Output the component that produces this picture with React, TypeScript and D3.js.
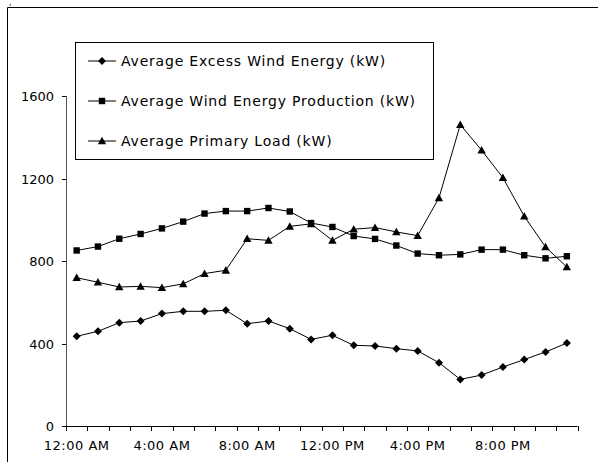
import React from "react";
import * as d3 from "d3";

const categories = Array.from({ length: 24 }, (_, i) => i);
const tickLabels = ["12:00 AM", "4:00 AM", "8:00 AM", "12:00 PM", "4:00 PM", "8:00 PM"];
const yTicks = [0, 400, 800, 1200, 1600];

const excess = [435, 459, 501, 509, 545, 556, 556, 561, 496, 509, 472, 420, 440, 391, 388, 375, 364, 307, 226, 247, 286, 322, 359, 402];
const production = [851, 870, 908, 931, 958, 991, 1030, 1042, 1042, 1057, 1040, 984, 965, 921, 907, 875, 836, 828, 832, 855, 855, 828, 813, 823];
const load = [719, 697, 674, 677, 671, 689, 739, 755, 908, 900, 968, 980, 900, 954, 962, 941, 923, 1106, 1461, 1337, 1204, 1017, 868, 771];

const seriesNames = [
  "Average Excess Wind Energy (kW)",
  "Average Wind Energy Production (kW)",
  "Average Primary Load (kW)",
];

const FONT = "'DejaVu Sans', Verdana, sans-serif";

function Marker({ type, x, y }: { type: string; x: number; y: number }) {
  if (type === "diamond") {
    const r = 4;
    return <path d={`M${x},${y - r}L${x + r},${y}L${x},${y + r}L${x - r},${y}Z`} fill="#000" />;
  }
  if (type === "square") {
    const r = 3.2;
    return <rect x={x - r} y={y - r} width={2 * r} height={2 * r} fill="#000" />;
  }
  const r = 4.2;
  return <path d={`M${x},${y - r}L${x + r},${y + r * 0.8}L${x - r},${y + r * 0.8}Z`} fill="#000" />;
}

export default function App() {
  const W = 598, H = 462;
  const x0 = 66, x1 = 577.5;
  const band = d3.scaleBand<number>().domain(categories).range([x0, x1]).padding(0);
  const cx = (i: number) => (band(i) as number) + band.bandwidth() / 2;
  const y = d3.scaleLinear().domain([0, 1600]).range([426, 96]);

  const line = d3
    .line<number>()
    .x((_, i) => cx(i))
    .y((d) => y(d));

  const series = [
    { data: excess, type: "diamond" },
    { data: production, type: "square" },
    { data: load, type: "triangle" },
  ];

  const ticksX = d3.range(0, 25).map((i) => x0 + i * band.bandwidth());

  return (
    <svg
      width={W}
      height={H}
      style={{ position: "absolute", left: 0, top: 0, background: "#fff" }}
      fontFamily={FONT}
    >
      <rect x={0} y={0} width={W} height={H} fill="#fff" />
      <text x={9} y={5} fontSize={8} fill="#000">,</text>
      {/* outer frame */}
      <path d={`M7.5,${H}V7.5H${W}`} fill="none" stroke="#000" strokeWidth={1} />

      {/* y axis */}
      <line x1={x0 + 0.5} x2={x0 + 0.5} y1={y(1600)} y2={y(0)} stroke="#555" strokeWidth={1} />
      {yTicks.map((t) => (
        <g key={t}>
          <line x1={x0 - 4} x2={x0} y1={Math.round(y(t)) + 0.5} y2={Math.round(y(t)) + 0.5} stroke="#000" />
          <text x={x0 - 12} y={y(t) + 5} fontSize={13} textAnchor="end" fill="#000">
            {t}
          </text>
        </g>
      ))}

      {/* x axis */}
      <line x1={x0} x2={x1} y1={y(0) + 0.5} y2={y(0) + 0.5} stroke="#000" />
      {ticksX.map((t, i) => (
        <line key={i} x1={Math.round(t) + 0.5} x2={Math.round(t) + 0.5} y1={y(0)} y2={y(0) + 5} stroke="#000" />
      ))}
      {tickLabels.map((l, i) => (
        <text key={l} x={cx(i * 4)} y={450} fontSize={13} letterSpacing={0.5} textAnchor="middle" fill="#000">
          {l}
        </text>
      ))}

      {/* series */}
      {series.map((s, si) => (
        <g key={si}>
          <path d={line(s.data) as string} fill="none" stroke="#000" strokeWidth={1} />
          {s.data.map((v, i) => (
            <Marker key={i} type={s.type} x={cx(i)} y={y(v)} />
          ))}
        </g>
      ))}

      {/* legend */}
      <rect x={75.5} y={42.5} width={358} height={117} fill="#fff" stroke="#000" strokeWidth={1} />
      {series.map((s, i) => {
        const ly = 61 + i * 40;
        return (
          <g key={i}>
            <line x1={88} x2={116} y1={ly} y2={ly} stroke="#000" />
            <Marker type={s.type} x={102} y={ly} />
            <text x={121} y={ly + 5} fontSize={14} letterSpacing={0.8} fill="#000">
              {seriesNames[i]}
            </text>
          </g>
        );
      })}
    </svg>
  );
}
